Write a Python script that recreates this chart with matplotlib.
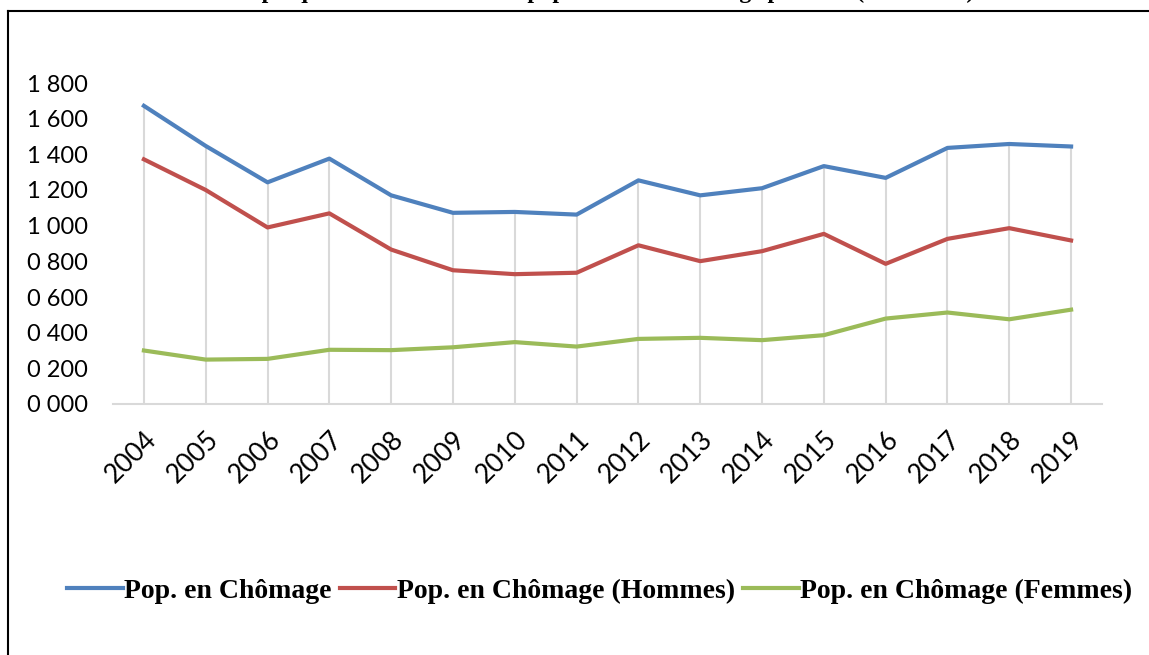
import matplotlib.pyplot as plt
from matplotlib.lines import Line2D

years = [str(y) for y in range(2004, 2020)]
total = [1672, 1447, 1243, 1376, 1170, 1072, 1077, 1062, 1254, 1170, 1210, 1334, 1268, 1436, 1458, 1444]
hommes = [1372, 1200, 990, 1069, 866, 750, 728, 736, 890, 801, 857, 954, 786, 926, 986, 917]
femmes = [300, 249, 253, 304, 302, 318, 347, 322, 365, 371, 358, 386, 479, 513, 475, 529]
yticks = [0, 200, 400, 600, 800, 1000, 1200, 1400, 1600, 1800]
title = "Graphique 1 : Évolution de la population en chômage par sexe (2004-2019)"

W, H = 1149, 655
fig = plt.figure(figsize=(W / 100, H / 100), dpi=100)
ax = fig.add_axes([113 / W, 1 - 404 / H, (1102 - 113) / W, (404 - 83) / H])

x = list(range(len(years)))
# drop lines from the highest series down to the axis
tops = [max(a, b, c) for a, b, c in zip(total, hommes, femmes)]
ax.vlines(x, 0, tops, color="#D9D9D9", linewidth=1.5, zorder=1)

ax.plot(x, total, color="#4F81BD", linewidth=3, label="Pop. en Chômage", zorder=3)
ax.plot(x, hommes, color="#C0504D", linewidth=3, label="Pop. en Chômage (Hommes)", zorder=3)
ax.plot(x, femmes, color="#9BBB59", linewidth=3, label="Pop. en Chômage (Femmes)", zorder=3)

ax.set_xlim(-0.5, len(years) - 0.5)
ax.set_ylim(0, 1800)
ax.set_yticks(yticks)
ax.set_yticklabels([f"{v // 1000} {v % 1000:03d}" for v in yticks],
                   fontsize=17, family="Lato")
ax.set_xticks(x)
ax.set_xticklabels(years, rotation=45, ha="right", rotation_mode="anchor",
                   fontsize=19, family="Lato")
ax.tick_params(axis="both", length=0)
ax.tick_params(axis="y", pad=18)
ax.tick_params(axis="x", pad=16)
for s in ["top", "right", "left"]:
    ax.spines[s].set_visible(False)
ax.spines["bottom"].set_color("#D9D9D9")
ax.spines["bottom"].set_linewidth(1.5)

fig.legend(loc="center", bbox_to_anchor=(0.522, 1 - 591 / H), ncol=3, frameon=False,
           prop={"family": "Liberation Serif", "weight": "bold", "size": 20},
           handlelength=2.0, columnspacing=0.3, handletextpad=0.05)

# outer frame: only the left and top edges fall inside the picture
fx, fy = 8 / W, 1 - 11 / H
fig.add_artist(Line2D([fx, fx], [0, fy], transform=fig.transFigure, color="black", linewidth=1.5))
fig.add_artist(Line2D([fx, 1], [fy, fy], transform=fig.transFigure, color="black", linewidth=1.5))
# title sits above the frame and is mostly cut off
fig.text(0.52, 1.0 + 1.5 / H, title, ha="center", va="baseline",
         family="Liberation Serif", weight="bold", fontsize=17)

fig.savefig("out.png", dpi=100)
